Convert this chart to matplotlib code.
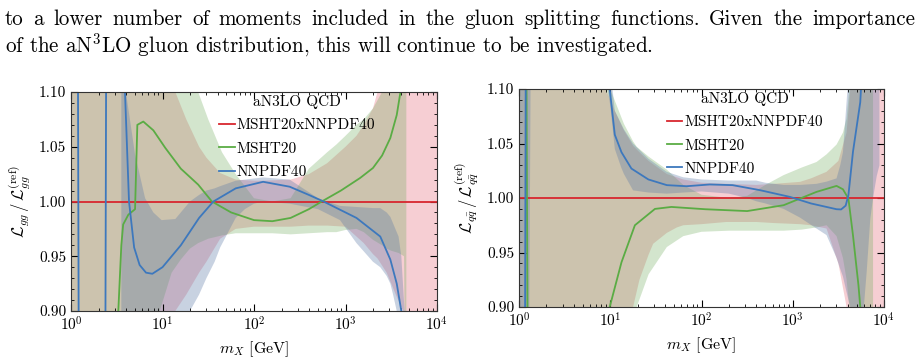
import numpy as np
import matplotlib
matplotlib.use("Agg")
import matplotlib.pyplot as plt

plt.rcParams["font.family"] = "serif"
plt.rcParams["font.serif"] = ["cmr10", "DejaVu Serif"]
plt.rcParams["mathtext.fontset"] = "cm"
plt.rcParams["axes.formatter.use_mathtext"] = True
plt.rcParams["axes.unicode_minus"] = False

# ---- data (x given as log10(m_X / GeV)) ----
# gg luminosity ratio, left panel
gg_nn_lg = [0.0, 0.075, 0.085, 0.375, 0.385, 0.58, 0.59, 0.634, 0.69, 0.75, 0.82, 0.889, 1.0,
            1.2, 1.4, 1.556, 1.8, 2.1, 2.39, 2.6, 2.76, 3.12, 3.38, 3.49, 3.56, 3.61, 3.65, 4.0]
gg_nn = [1.20, 1.15, 0.85, 0.85, 1.15, 1.15, 1.10, 1.0, 0.958, 0.942, 0.935, 0.934, 0.940,
         0.960, 0.985, 1.0, 1.012, 1.018, 1.0135, 1.006, 1.0, 0.985, 0.968, 0.947, 0.925, 0.90, 0.87, 0.80]
gg_ms_lg = [0.50, 0.517, 0.55, 0.57, 0.627, 0.68, 0.70, 0.725, 0.79, 0.9, 1.03, 1.2, 1.39, 1.54,
            1.75, 2.0, 2.2, 2.4, 2.6, 2.74, 2.95, 3.16, 3.30, 3.40, 3.49, 3.56, 3.62]
gg_ms = [0.86, 0.90, 0.96, 0.979, 0.988, 0.9916, 0.993, 1.070, 1.073, 1.065, 1.049, 1.03, 1.0154, 1.0,
         0.99, 0.983, 0.982, 0.985, 0.993, 1.0, 1.01, 1.0215, 1.0306, 1.042, 1.058, 1.079, 1.11]

gg_comb_lg = [0.0, 1.0, 1.08, 1.14, 1.26, 1.4, 1.48, 1.63, 1.8, 2.0, 2.1, 2.4, 2.6, 2.8, 3.0, 3.12,
              3.2, 3.3, 3.35, 3.45, 3.55, 3.63, 3.68, 3.7, 4.0]
gg_comb_hi = [1.3, 1.3, 1.15, 1.10, 1.075, 1.05, 1.04, 1.026, 1.02, 1.019, 1.019, 1.02, 1.025, 1.035,
              1.05, 1.06, 1.07, 1.085, 1.10, 1.2, 1.3, 1.3, 1.3, 1.3, 1.3]
gg_comb_lo = [0.7, 0.7, 0.88, 0.90, 0.915, 0.935, 0.945, 0.966, 0.975, 0.977, 0.977, 0.977, 0.978, 0.978,
              0.977, 0.968, 0.962, 0.952, 0.948, 0.935, 0.915, 0.90, 0.85, 0.7, 0.7]

gg_msb_lg = [0.0, 0.9, 0.97, 1.1, 1.2, 1.26, 1.3, 1.39, 1.5, 1.65, 1.8, 2.0, 2.2, 2.4, 2.6, 2.8, 2.9, 3.0,
             3.12, 3.2, 3.3, 3.4, 3.45, 3.5, 3.58, 3.64, 3.665]
gg_msb_hi = [1.3, 1.3, 1.3, 1.3, 1.2, 1.16, 1.13, 1.10, 1.075, 1.045, 1.025, 1.003, 1.0, 1.003, 1.03,
             1.045, 1.052, 1.06, 1.07, 1.075, 1.085, 1.10, 1.2, 1.3, 1.3, 1.3, 1.3]
gg_msb_lo = [0.7, 0.7, 0.90, 0.935, 0.947, 0.953, 0.957, 0.962, 0.966, 0.969, 0.971, 0.971, 0.971, 0.970,
             0.971, 0.972, 0.972, 0.974, 0.975, 0.972, 0.965, 0.96, 0.957, 0.955, 0.953, 0.95, 0.7]

gg_nnb_lg = [0.55, 0.6, 0.7, 0.81, 0.9, 0.99, 1.14, 1.3, 1.4, 1.48, 1.57, 1.63, 1.8, 1.9, 2.0, 2.1,
             2.39, 2.7, 2.94, 3.12, 3.3, 3.38, 3.45, 3.49, 3.52, 3.56, 3.58, 3.61, 3.66]
gg_nnb_hi = [1.3, 1.10, 1.043, 1.003, 0.99, 0.983, 0.984, 1.0, 1.006, 1.01, 1.012, 1.014, 1.019, 1.02,
             1.021, 1.022, 1.02, 1.003, 0.996, 0.995, 0.994, 0.994, 0.99, 0.986, 0.98, 0.972, 0.968, 0.95, 0.88]
gg_nnb_lo = [0.7, 0.7, 0.7, 0.7, 0.75, 0.8, 0.86, 0.90, 0.915, 0.93, 0.945, 0.958, 0.985, 0.993,
             0.998, 1.0, 0.998, 0.993, 0.983, 0.962, 0.945, 0.94, 0.932, 0.925, 0.915, 0.90, 0.89, 0.87, 0.85]

# q qbar luminosity ratio, right panel
qq_nn_lg = [0.0, 0.065, 0.075, 0.98, 0.994, 1.05, 1.123, 1.232, 1.418, 1.62, 1.835, 2.09, 2.34, 2.64,
            2.97, 3.2, 3.48, 3.53, 3.58, 3.61, 3.66, 3.74, 3.78]
qq_nn = [0.8, 0.85, 1.15, 1.15, 1.10, 1.058, 1.042, 1.027, 1.017, 1.0118, 1.0108, 1.0124, 1.0118, 1.0072,
         1.001, 0.995, 0.9897, 0.9895, 0.993, 1.0026, 1.0424, 1.088, 1.15]
qq_ms_lg = [0.0, 0.08, 0.095, 0.98, 0.994, 1.123, 1.27, 1.49, 1.67, 2.04, 2.5, 2.9, 3.26, 3.48, 3.55,
            3.61, 3.66, 3.72, 3.74, 3.78]
qq_ms = [1.2, 1.15, 0.85, 0.85, 0.90, 0.941, 0.975, 0.990, 0.9918, 0.9897, 0.988, 0.9934, 1.0056, 1.0111,
         1.008, 0.9995, 0.9658, 0.92, 0.90, 0.85]

qq_comb_lg = [0.0, 0.93, 0.95, 1.05, 1.15, 1.2, 1.25, 1.32, 1.42, 1.47, 1.62, 1.73, 1.8, 2.0, 2.27, 2.6,
              2.8, 3.08, 3.2, 3.37, 3.5, 3.59, 3.63, 3.66, 4.0]
qq_comb_hi = [1.3, 1.3, 1.10, 1.08, 1.062, 1.055, 1.048, 1.042, 1.034, 1.031, 1.022, 1.019, 1.017, 1.014,
              1.013, 1.012, 1.013, 1.0148, 1.018, 1.024, 1.034, 1.06, 1.10, 1.3, 1.3]
qq_comb_lo = [0.7, 0.7, 0.7, 0.7, 0.7, 0.7, 0.90, 0.925, 0.948, 0.958, 0.968, 0.973, 0.975, 0.976, 0.978,
              0.978, 0.977, 0.976, 0.975, 0.972, 0.94, 0.90, 0.88, 0.7, 0.7]

qq_msb_lg = [0.0, 0.93, 0.95, 1.0, 1.15, 1.25, 1.29, 1.42, 1.62, 1.8, 2.0, 2.3, 2.5, 2.7, 2.9, 3.1, 3.26,
             3.37, 3.48, 3.55, 3.59, 3.62, 3.65, 3.66, 3.87, 3.88]
qq_msb_hi = [1.3, 1.3, 1.12, 1.10, 1.068, 1.052, 1.047, 1.038, 1.026, 1.012, 1.003, 1.0, 1.002, 1.012,
             1.021, 1.028, 1.033, 1.04, 1.049, 1.06, 1.073, 1.10, 1.3, 1.3, 1.3, 1.3]
qq_msb_lo = [0.7, 0.7, 0.7, 0.7, 0.7, 0.87, 0.90, 0.93, 0.955, 0.965, 0.969, 0.97, 0.97, 0.97, 0.97, 0.971,
             0.973, 0.975, 0.965, 0.945, 0.925, 0.90, 0.75, 0.7, 0.7, 0.7]

qq_nnb_lg = [0.0, 0.10, 0.13, 0.93, 0.97, 1.0, 1.05, 1.12, 1.15, 1.25, 1.42, 1.62, 1.8, 2.0, 2.3, 2.5,
             2.6, 2.7, 2.9, 3.08, 3.26, 3.37, 3.48, 3.52, 3.55, 3.6, 3.63, 3.66, 3.7, 3.76, 3.81, 3.85,
             3.88, 3.92, 3.95]
qq_nnb_hi = [1.3, 1.3, 1.3, 1.3, 1.3, 1.12, 1.08, 1.068, 1.063, 1.05, 1.036, 1.024, 1.019, 1.017, 1.016,
             1.016, 1.016, 1.014, 1.012, 1.012, 1.013, 1.015, 1.018, 1.03, 1.042, 1.10, 1.3, 1.3, 1.3,
             1.3, 1.3, 1.3, 1.3, 1.3, 1.3]
qq_nnb_lo = [0.7, 0.7, 1.15, 1.15, 1.10, 1.085, 1.045, 1.028, 1.022, 1.007, 1.005, 1.004, 1.005, 1.006,
             1.004, 1.0, 0.997, 0.995, 0.99, 0.982, 0.972, 0.966, 0.945, 0.935, 0.928, 0.91, 0.90, 0.89,
             0.88, 0.88, 0.932, 0.981, 1.0, 1.02, 1.03]

labels = ["MSHT20xNNPDF40", "MSHT20", "NNPDF40"]
line_cols = ["#d8262e", "#5aac44", "#3d78bd"]
band_cols = [("#dc3c50", 0.25), ("#6eaa5a", 0.30), ("#5f7ba8", 0.34)]

para = ["to a lower number of moments included in the gluon splitting functions. Given the importance",
        r"of the aN$^3$LO gluon distribution, this will continue to be investigated."]


def m(lg):
    return 10.0 ** np.asarray(lg)


def panel(ax, bands, lines, ylab):
    for (lg, lo, hi), (c, a) in zip(bands, band_cols):
        ax.fill_between(m(lg), lo, hi, color=c, alpha=a, lw=0)
    ax.axhline(1.0, color=line_cols[0], lw=1.3, label=labels[0])
    for (lg, v), c, lab in zip(lines, line_cols[1:], labels[1:]):
        ax.plot(m(lg), v, color=c, lw=1.3, label=lab)
    ax.set_xscale("log")
    ax.set_xlim(1, 1e4)
    ax.set_ylim(0.9, 1.1)
    ax.set_yticks([0.90, 0.95, 1.00, 1.05, 1.10])
    ax.set_yticklabels(["0.90", "0.95", "1.00", "1.05", "1.10"])
    ax.set_yticks(np.arange(0.90, 1.101, 0.01), minor=True)
    ax.tick_params(which="both", direction="in", top=True, right=True, labelsize=11)
    ax.tick_params(which="major", length=5)
    ax.tick_params(which="minor", length=2.5)
    ax.set_xlabel(r"$m_X$ [GeV]", fontsize=11.5, labelpad=4)
    ax.set_ylabel(ylab, fontsize=12, labelpad=4)
    for s in ax.spines.values():
        s.set_color("#333333")
    ax.legend(loc="upper left", bbox_to_anchor=(0.405, 0.985), frameon=False,
              title="aN3LO QCD", title_fontsize=11, fontsize=11,
              handlelength=1.0, handletextpad=0.15, labelspacing=0.62,
              borderpad=0.0, borderaxespad=0.0)


fig = plt.figure(figsize=(9.18, 3.63), dpi=100)

# first line is justified to the full width, second line left aligned
renderer = fig.canvas.get_renderer()
words = para[0].split(" ")
tw = [fig.text(0, 0, w, fontsize=15.2) for w in words]
widths = [t.get_window_extent(renderer).width for t in tw]
gap = (910 - sum(widths)) / (len(words) - 1)
xpos = 5.0
for t, w in zip(tw, widths):
    t.set_position((xpos / 918, 1 - 25 / 363))
    t.set_va("baseline")
    xpos += w + gap
fig.text(5 / 918, 1 - 52 / 363, para[1], fontsize=15.2, va="baseline", ha="left")

ax1 = fig.add_axes([71 / 918, 52 / 363, 366 / 918, 219 / 363])
panel(ax1,
      [(gg_comb_lg, gg_comb_lo, gg_comb_hi), (gg_msb_lg, gg_msb_lo, gg_msb_hi),
       (gg_nnb_lg, gg_nnb_lo, gg_nnb_hi)],
      [(gg_ms_lg, gg_ms), (gg_nn_lg, gg_nn)],
      r"$\mathcal{L}_{gg}\,/\,\mathcal{L}_{gg}^{(\mathrm{ref})}$")

ax2 = fig.add_axes([519 / 918, 56 / 363, 365 / 918, 218 / 363])
panel(ax2,
      [(qq_comb_lg, qq_comb_lo, qq_comb_hi), (qq_msb_lg, qq_msb_lo, qq_msb_hi),
       (qq_nnb_lg, qq_nnb_lo, qq_nnb_hi)],
      [(qq_ms_lg, qq_ms), (qq_nn_lg, qq_nn)],
      r"$\mathcal{L}_{q\bar{q}}\,/\,\mathcal{L}_{q\bar{q}}^{(\mathrm{ref})}$")

fig.savefig("out.png", dpi=100)
